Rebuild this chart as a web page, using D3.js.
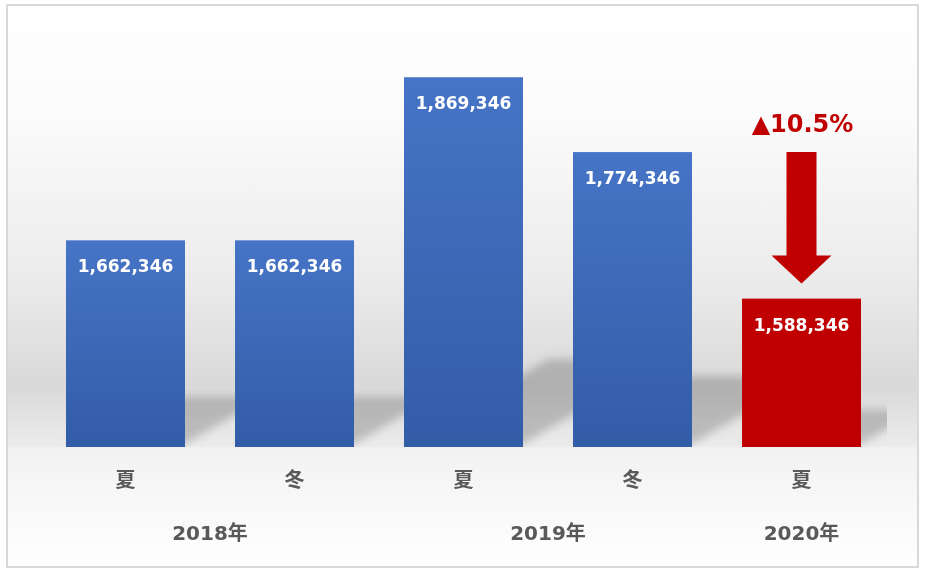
<!DOCTYPE html>
<html>
<head>
<meta charset="utf-8">
<script src="https://cdn.jsdelivr.net/npm/d3@7"></script>
<style>
  html, body { margin: 0; padding: 0; background: #fff; }
  svg { display: block; }
</style>
</head>
<body>
<div id="chart"></div>
<script>
const years = ['2018年', '2018年', '2019年', '2019年', '2020年'];
const seasons = ['夏', '冬', '夏', '冬', '夏'];
const values = [1662346, 1662346, 1869346, 1774346, 1588346];
const yearLabels = ['2018年', '2019年', '2020年'];
const changeLabel = '▲10.5%';

const W = 929, H = 574;
const font = '"DejaVu Sans", "Noto Sans CJK JP", sans-serif';

const svg = d3.select('#chart').append('svg')
  .attr('width', W)
  .attr('height', H);

const defs = svg.append('defs');

// chart background, gray band just above the baseline
const bg = defs.append('linearGradient').attr('id', 'bgGrad')
  .attr('gradientUnits', 'userSpaceOnUse')
  .attr('x1', 0).attr('y1', 5).attr('x2', 0).attr('y2', 567);
[[5, '#ffffff'], [120, '#fbfbfb'], [280, '#ebebeb'], [385, '#d9d9d9'], [446, '#ebebeb'],
 [448, '#f2f2f2'], [567, '#ffffff']].forEach(([o, c]) => {
  bg.append('stop').attr('offset', (o - 5) / 562).attr('stop-color', c);
});

const barGrad = defs.append('linearGradient').attr('id', 'barGrad')
  .attr('x1', 0).attr('y1', 0).attr('x2', 0).attr('y2', 1);
barGrad.append('stop').attr('offset', '0%').attr('stop-color', '#4674c6');
barGrad.append('stop').attr('offset', '100%').attr('stop-color', '#335ca7');

defs.append('filter').attr('id', 'blur')
  .attr('x', '-20%').attr('y', '-20%').attr('width', '140%').attr('height', '140%')
  .append('feGaussianBlur').attr('stdDeviation', 4.5);

svg.append('rect')
  .attr('x', 7).attr('y', 5)
  .attr('width', 911).attr('height', 562)
  .attr('fill', 'url(#bgGrad)')
  .attr('stroke', '#d9d9d9')
  .attr('stroke-width', 2);

const plot = { left: 41, right: 887, top: 20, bottom: 447 };

const ids = values.map((d, i) => i);
const x = d3.scaleBand()
  .domain(ids)
  .range([plot.left, plot.left + 845])
  .paddingInner(50 / 169)
  .paddingOuter(25 / 169);

const y = d3.scaleLinear()
  .domain([1400000, 1942000])
  .range([plot.bottom, plot.top]);

defs.append('clipPath').attr('id', 'plotClip')
  .append('rect')
  .attr('x', plot.left).attr('y', plot.top)
  .attr('width', plot.right - plot.left).attr('height', plot.bottom - plot.top);

// perspective shadows
svg.append('g')
  .attr('clip-path', 'url(#plotClip)')
  .append('g')
  .attr('filter', 'url(#blur)')
  .selectAll('polygon')
  .data(ids)
  .enter().append('polygon')
  .attr('points', i => {
    const x0 = x(i), x1 = x(i) + x.bandwidth();
    const sh = (plot.bottom - y(values[i])) * 0.23;
    const dx = sh * 1.7;
    const b = plot.bottom - 3;
    return [[x0, b], [x1, b], [x1 + dx, b - sh], [x0 + dx, b - sh]].join(' ');
  })
  .attr('fill', '#000')
  .attr('opacity', 0.19);

// bars
svg.selectAll('.bar')
  .data(ids)
  .enter().append('rect')
  .attr('class', 'bar')
  .attr('x', i => x(i))
  .attr('y', i => y(values[i]))
  .attr('width', x.bandwidth())
  .attr('height', i => plot.bottom - y(values[i]))
  .attr('fill', i => i === values.length - 1 ? '#c00000' : 'url(#barGrad)');

svg.selectAll('.val')
  .data(ids)
  .enter().append('text')
  .attr('class', 'val')
  .attr('x', i => x(i) + x.bandwidth() / 2)
  .attr('y', i => y(values[i]) + 32)
  .attr('text-anchor', 'middle')
  .attr('fill', '#fff')
  .attr('font-family', font)
  .attr('font-weight', 'bold')
  .attr('font-size', '17px')
  .text(i => d3.format(',')(values[i]));

// season axis
const axis = svg.append('g')
  .attr('transform', `translate(0,${plot.bottom})`)
  .call(d3.axisBottom(x).tickSize(0).tickPadding(0).tickFormat(i => seasons[i]));
axis.select('.domain').remove();
axis.selectAll('text')
  .attr('dy', null)
  .attr('y', 40)
  .attr('fill', '#595959')
  .attr('font-family', font)
  .attr('font-weight', 'bold')
  .attr('font-size', '20px');

// year labels
svg.selectAll('.year')
  .data(yearLabels)
  .enter().append('text')
  .attr('class', 'year')
  .attr('x', yl => d3.mean(ids.filter(i => years[i] === yl), i => x(i) + x.bandwidth() / 2))
  .attr('y', 540)
  .attr('text-anchor', 'middle')
  .attr('fill', '#595959')
  .attr('font-family', font)
  .attr('font-weight', 'bold')
  .attr('font-size', '20px')
  .text(d => d);

// change arrow
const last = values.length - 1;
const cx = x(last) + x.bandwidth() / 2;
const aTop = y(values[last - 1]);
const aTip = y(values[last]) - 15;
const headH = 28, shaftW = 15, headW = 30;
svg.append('polygon')
  .attr('points', [
    [cx - shaftW, aTop], [cx + shaftW, aTop], [cx + shaftW, aTip - headH],
    [cx + headW, aTip - headH], [cx, aTip], [cx - headW, aTip - headH],
    [cx - shaftW, aTip - headH]
  ].join(' '))
  .attr('fill', '#c00000');

svg.append('text')
  .attr('x', cx + 1)
  .attr('y', aTop - 20)
  .attr('text-anchor', 'middle')
  .attr('fill', '#c00000')
  .attr('font-family', font)
  .attr('font-weight', 'bold')
  .attr('font-size', '24px')
  .text(changeLabel);
</script>
</body>
</html>
